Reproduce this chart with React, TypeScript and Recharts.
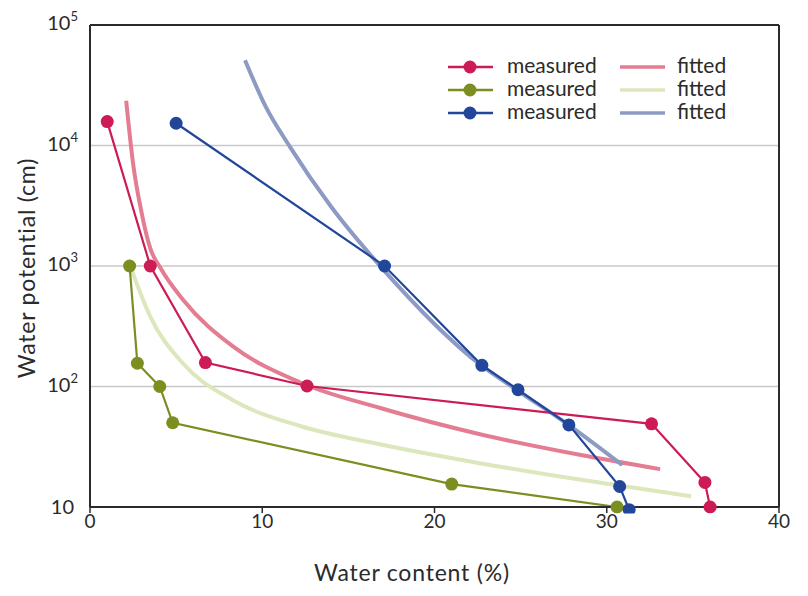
import React from 'react'
import { LineChart, Line, XAxis, YAxis, ReferenceLine, Legend } from 'recharts'

// water content (%) -> water potential (cm)
const redMeasuredX = [1.0, 3.5, 6.7, 12.6, 32.6, 35.7, 36.0]
const redMeasuredY = [15800, 1000, 158, 101, 49, 16, 10]
const greenMeasuredX = [2.3, 2.75, 4.05, 4.8, 21.0, 30.6]
const greenMeasuredY = [1000, 156, 100, 50, 15.5, 10]
const blueMeasuredX = [5.0, 17.1, 22.75, 24.85, 27.8, 30.75, 31.3]
const blueMeasuredY = [15300, 1000, 150, 94, 48, 14.8, 9.5]

const redFittedX = [2.1, 2.5, 3.0, 3.5, 4.1, 5.4, 8.3, 12.2, 16.9, 22.7, 28.5, 33.1]
const redFittedY = [23500, 7100, 2750, 1400, 960, 525, 215, 108, 66, 40, 27, 20.6]
const greenFittedX = [2.4, 3.5, 5.4, 8.3, 12.2, 16.9, 22.7, 28.5, 34.9]
const greenFittedY = [940, 380, 155, 77, 47, 33, 23, 16.8, 12.3]
const blueFittedX = [9.0, 10.2, 11.6, 14.0, 16.9, 22.7, 24.8, 27.7, 30.9]
const blueFittedY = [51000, 21000, 9800, 3100, 980, 150, 93, 49, 22.3]

const xTicks = [0, 10, 20, 30, 40]
const yTicks = [10, 100, 1000, 10000, 100000]
const gridValues = [100, 1000, 10000]

const measuredLabels = ['measured', 'measured', 'measured']
const fittedLabels = ['fitted', 'fitted', 'fitted']
const measuredColors = ['#cc1b55', '#7b8e20', '#22479a']
const fittedColors = ['#e47c92', '#dce7bd', '#8c9ac4']

const toPoints = (xs: number[], ys: number[]) => xs.map((x, i) => ({ x, y: ys[i] }))

const measuredSeries = [
  toPoints(redMeasuredX, redMeasuredY),
  toPoints(greenMeasuredX, greenMeasuredY),
  toPoints(blueMeasuredX, blueMeasuredY),
]
const fittedSeries = [
  toPoints(redFittedX, redFittedY),
  toPoints(greenFittedX, greenFittedY),
  toPoints(blueFittedX, blueFittedY),
]

const FONT = 'Lato, "Open Sans", sans-serif'
const INK = '#2b2b2b'

const YTick = ({ x, y, payload }: any) => {
  const exp = Math.round(Math.log10(payload.value))
  if (exp === 1) {
    return (
      <text x={x - 4} y={y} dy={7} textAnchor="end" fontSize={20} fill={INK} fontFamily={FONT}>
        10
      </text>
    )
  }
  return (
    <text x={x} y={y} dy={5} textAnchor="end" fontSize={20} fill={INK} fontFamily={FONT}>
      <tspan>10</tspan>
      <tspan dy={-9} fontSize={13}>{exp}</tspan>
    </text>
  )
}

// axis titles sit at fixed spots, like in the original figure
const XLabel = () => (
  <text x={412} y={581} textAnchor="middle" fontSize={23} letterSpacing={0.8} fill={INK} fontFamily={FONT}>
    Water content (%)
  </text>
)

const YLabel = () => (
  <text
    x={26}
    y={268}
    transform="rotate(-90, 26, 268)"
    textAnchor="middle"
    dominantBaseline="central"
    fontSize={23}
    letterSpacing={0.8}
    fill={INK}
    fontFamily={FONT}
  >
    Water potential (cm)
  </text>
)

const LegendBox = () => (
  <svg width={330} height={75} style={{ display: 'block' }}>
    {measuredLabels.map((label, i) => (
      <g key={`m-${i}`}>
        <line x1={8} x2={53} y1={14 + i * 23} y2={14 + i * 23} stroke={measuredColors[i]} strokeWidth={2.5} />
        <circle cx={30} cy={14 + i * 23} r={6.5} fill={measuredColors[i]} />
        <text x={67} y={14 + i * 23} dy={6} fontSize={21} fill={INK} fontFamily={FONT}>
          {label}
        </text>
      </g>
    ))}
    {fittedLabels.map((label, i) => (
      <g key={`f-${i}`}>
        <line x1={180} x2={225} y1={14 + i * 23} y2={14 + i * 23} stroke={fittedColors[i]} strokeWidth={3.5} />
        <text x={237} y={14 + i * 23} dy={6} fontSize={21} fill={INK} fontFamily={FONT}>
          {label}
        </text>
      </g>
    ))}
  </svg>
)

export default function App() {
  return (
    <div style={{ position: 'absolute', left: 0, top: 0, background: '#fff' }}>
      <LineChart width={808} height={596} margin={{ top: 25, right: 29, bottom: 19, left: 30 }}>
        <XAxis
          type="number"
          dataKey="x"
          domain={[0, 40]}
          ticks={xTicks}
          interval={0}
          height={70}
          axisLine={{ stroke: INK, strokeWidth: 2 }}
          tickLine={{ stroke: INK, strokeWidth: 1.5 }}
          tickSize={6}
          tick={{ fontSize: 19, fill: INK, fontFamily: FONT }}
          label={<XLabel />}
        />
        <YAxis
          type="number"
          dataKey="y"
          scale="log"
          domain={[10, 100000]}
          allowDataOverflow
          ticks={yTicks}
          interval={0}
          width={60}
          axisLine={{ stroke: INK, strokeWidth: 2 }}
          tickLine={false}
          tickSize={0}
          tickMargin={12}
          tick={<YTick />}
          label={<YLabel />}
        />
        {gridValues.map((v) => (
          <ReferenceLine key={v} y={v} stroke="#c9c9c9" strokeWidth={1.5} />
        ))}
        <ReferenceLine y={100000} stroke={INK} strokeWidth={2} />
        <ReferenceLine x={40} stroke={INK} strokeWidth={2} />
        <Legend
          layout="horizontal"
          verticalAlign="middle"
          align="center"
          wrapperStyle={{ left: 440, top: 53, width: 330, height: 75 }}
          content={<LegendBox />}
        />
        {fittedSeries.map((data, i) => (
          <Line
            key={`fit-${i}`}
            data={data}
            dataKey="y"
            type="monotone"
            stroke={fittedColors[i]}
            strokeWidth={4}
            dot={false}
            activeDot={false}
            isAnimationActive={false}
          />
        ))}
        {measuredSeries.map((data, i) => (
          <Line
            key={`meas-${i}`}
            data={data}
            dataKey="y"
            type="linear"
            stroke={measuredColors[i]}
            strokeWidth={2.2}
            dot={{ r: 6.5, fill: measuredColors[i], stroke: measuredColors[i], strokeWidth: 0, clipDot: false }}
            activeDot={false}
            isAnimationActive={false}
          />
        ))}
      </LineChart>
    </div>
  )
}
